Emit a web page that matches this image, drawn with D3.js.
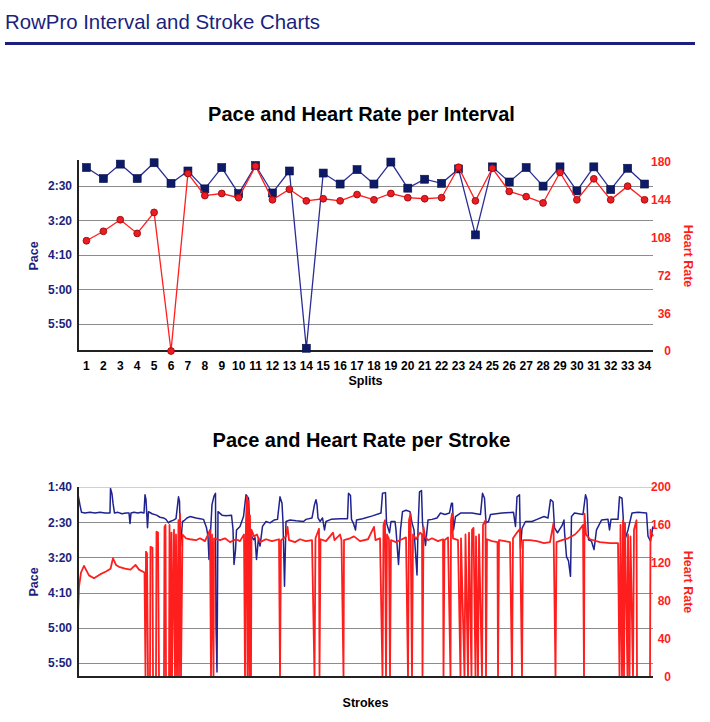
<!DOCTYPE html>
<html>
<head>
<meta charset="utf-8">
<script src="https://cdn.jsdelivr.net/npm/d3@7"></script>
<style>
  body { margin: 0; background: #fff; }
  svg text { font-family: "Liberation Sans", Arial, Helvetica, sans-serif; }
</style>
</head>
<body>
<svg id="page" width="710" height="722"></svg>
<script>
// interval data (pace in seconds per 500m, heart rate in bpm)
const splits = [1,2,3,4,5,6,7,8,9,10,11,12,13,14,15,16,17,18,19,20,21,22,23,24,25,26,27,28,29,30,31,32,33,34];
const splitPace = [123,139,118,139,116,146,128,154,123,161,120,160,128,386,131,147,126,147,115,153,140,146,125,221,122,144,123,150,122,157,122,155,124,147];
const splitHeartRate = [105,114,125,112,132,0,169,148,150,146,176,144,154,143,145,143,149,144,150,146,145,146,175,143,174,152,147,141,170,144,164,144,157,144];

const intervalPaceTicks = [150,200,250,300,350];
const intervalHrTicks = [0,36,72,108,144,180];
const strokePaceTicks = [100,150,200,250,300,350];
const strokeHrTicks = [0,40,80,120,160,200];

// stroke data: [stroke, value]
const strokePace = [
  [0,111],[2,118],[4,126],[7,136],[14,137],[24,136],[34,137],[44,136],[54,137],[64,137],[65,102],[68,110],[70,123],[73,137],[80,136],[88,138],[96,137],[102,137],[104,152],[106,137],[112,136],[120,137],[126,136],[132,137],
  [134,111],[136,118],[139,158],[141,135],[148,138],[157,140],[164,143],[171,144],[176,146],[181,151],[184,149],[191,147],[196,145],[201,114],[203,120],[205,185],[209,149],[212,148],[218,144],[224,142],[230,143],[236,144],
  [244,145],[251,146],[257,158],[260,170],[262,203],[265,165],[268,125],[272,113],[275,109],[276,298],[278,363],[280,135],[288,140],[296,141],[307,140],[310,160],[312,210],[315,190],[317,161],[324,156],[331,142],
  [336,111],[341,116],[344,165],[351,175],[354,172],[357,203],[361,172],[364,184],[369,156],[376,149],[384,151],[392,147],[399,146],[404,114],[408,123],[410,150],[413,241],[416,149],[424,147],[436,148],[451,149],
  [456,146],[468,144],[473,125],[476,118],[478,125],[480,144],[484,149],[489,144],[493,161],[496,149],[506,146],[524,145],[539,145],[541,109],[545,112],[547,146],[551,152],[555,161],[557,147],[569,145],[589,141],
  [606,137],[609,109],[615,108],[617,151],[623,165],[626,149],[634,149],[636,161],[641,210],[645,161],[649,135],[656,133],[664,135],[668,151],[672,161],[678,225],[680,161],[683,107],[687,105],[689,151],[695,183],
  [700,147],[708,146],[718,144],[725,137],[734,139],[743,137],[747,123],[749,123],[751,161],[755,142],[765,137],[788,137],[805,139],[809,109],[813,116],[816,151],[821,149],[825,139],[848,137],[871,136],[875,156],
  [878,114],[883,111],[885,187],[888,159],[895,149],[908,149],[918,146],[932,142],[940,144],[945,118],[950,121],[953,158],[959,165],[968,155],[972,147],[973,163],[977,199],[981,205],[985,227],[987,142],[993,137],
  [1010,139],[1015,111],[1018,118],[1021,175],[1027,177],[1032,189],[1037,161],[1047,147],[1060,146],[1063,161],[1066,146],[1080,146],[1083,114],[1088,116],[1092,161],[1095,172],[1100,161],[1108,137],[1120,136],
  [1137,137],[1140,170],[1145,177],[1150,156]
];
const strokeHeartRate = [
  [0,65],[2,95],[6,110],[12,117],[17,112],[22,107],[32,104],[44,108],[56,111],[65,114],[70,125],[76,118],[82,116],[94,114],[105,113],[115,118],[122,113],[133,110],
  [135,0],[136,132],[138,130],[140,0],[144,0],[145,137],[149,136],[150,0],[156,0],[157,153],[160,152],[162,0],[172,0],[173,158],[175,160],[176,0],[182,0],[183,160],[185,0],[187,152],[188,0],[192,155],[194,0],
  [196,150],[198,0],[201,165],[202,0],[204,172],[206,0],[209,150],[216,146],[224,145],[236,144],[244,146],[254,143],[260,150],[264,155],[266,0],[268,150],[271,0],[272,146],[284,144],[294,146],[304,142],[316,145],
  [324,143],[332,150],[334,0],[336,165],[338,190],[339,0],[341,185],[343,0],[344,170],[346,0],[347,155],[352,148],[358,150],[364,142],[376,145],[388,143],[402,145],[404,0],[406,144],[416,148],[419,158],[422,144],
  [434,142],[444,145],[456,143],[468,144],[473,0],[475,146],[482,156],[483,0],[485,145],[496,143],[510,152],[513,144],[524,150],[527,144],[531,0],[532,144],[544,146],[552,148],[564,143],[580,145],[592,158],[595,144],
  [604,146],[609,0],[611,160],[614,165],[616,0],[618,150],[622,145],[624,0],[626,144],[636,142],[648,145],[656,147],[660,0],[662,165],[665,172],[668,0],[670,150],[676,145],[684,152],[688,150],[689,0],[691,158],
  [694,148],[700,144],[708,146],[720,143],[730,145],[731,0],[733,144],[740,147],[745,0],[746,165],[748,172],[750,146],[760,144],[765,0],[766,146],[773,0],[775,150],[780,0],[782,152],[787,0],[788,155],[791,157],
  [795,0],[796,148],[800,0],[802,150],[808,0],[810,160],[815,165],[816,0],[818,145],[828,143],[839,142],[840,0],[842,144],[854,143],[864,142],[868,0],[870,146],[878,152],[884,156],[888,0],[890,144],[904,144],
  [918,143],[932,141],[944,142],[951,162],[955,0],[957,142],[968,144],[980,146],[994,150],[1003,155],[1010,160],[1012,0],[1013,172],[1016,150],[1024,145],[1044,142],[1064,141],[1080,141],[1083,0],[1085,160],
  [1088,0],[1090,165],[1092,0],[1094,162],[1099,0],[1100,150],[1103,0],[1105,148],[1110,0],[1112,155],[1117,165],[1118,0],[1144,0],[1145,155],[1150,148]
];

const navy = "#1b1f7e";
const paceLine = "#1f228f";
const red = "#ff1e1e";
const gridColor = "#8c8c8c";
const axisColor = "#222";

const svg = d3.select("svg#page");
const fmtPace = s => Math.floor(s / 60) + ":" + String(s % 60).padStart(2, "0");

// page header
svg.append("text")
  .attr("x", 5).attr("y", 29)
  .attr("font-size", 20.4)
  .attr("fill", navy)
  .text("RowPro Interval and Stroke Charts");
svg.append("line")
  .attr("x1", 5).attr("x2", 695)
  .attr("y1", 43.5).attr("y2", 43.5)
  .attr("stroke", navy)
  .attr("stroke-width", 3);

function frame(box, title, paceScale, paceTicks, hrScale, hrTicks) {
  const g = svg.append("g");
  g.append("text")
    .attr("x", (box.left + box.right) / 2 - 4)
    .attr("y", box.titleY)
    .attr("text-anchor", "middle")
    .attr("font-size", 20)
    .attr("font-weight", "bold")
    .attr("fill", "#000")
    .text(title);

  g.append("g").attr("class", "grid").selectAll("line")
    .data(paceTicks)
    .join("line")
    .attr("x1", box.left).attr("x2", box.right)
    .attr("y1", d => Math.round(paceScale(d)) + 0.5)
    .attr("y2", d => Math.round(paceScale(d)) + 0.5)
    .attr("stroke", gridColor)
    .attr("stroke-width", 1);

  const left = g.append("g")
    .attr("transform", `translate(${box.left},0)`)
    .call(d3.axisLeft(paceScale).tickValues(paceTicks).tickFormat(fmtPace).tickSize(0).tickPadding(6));
  left.select(".domain").remove();
  left.selectAll("text")
    .attr("font-size", 12).attr("font-weight", "bold")
    .attr("fill", navy).attr("font-family", null);

  const right = g.append("g")
    .attr("transform", `translate(${box.right},0)`)
    .call(d3.axisRight(hrScale).tickValues(hrTicks).tickSize(0));
  right.select(".domain").remove();
  right.selectAll("text")
    .attr("x", 18).attr("text-anchor", "end")
    .attr("font-size", 12).attr("font-weight", "bold")
    .attr("fill", red).attr("font-family", null);

  g.append("text")
    .attr("transform", `translate(38,${box.labelY}) rotate(-90)`)
    .attr("text-anchor", "middle")
    .attr("font-size", 12.5).attr("font-weight", "bold")
    .attr("fill", navy)
    .text("Pace");
  g.append("text")
    .attr("transform", `translate(684,${box.labelY}) rotate(90)`)
    .attr("text-anchor", "middle")
    .attr("font-size", 12.5).attr("font-weight", "bold")
    .attr("fill", red)
    .text("Heart Rate");
  return g;
}

function axisLines(g, box) {
  g.append("line")
    .attr("x1", box.left).attr("x2", box.left)
    .attr("y1", box.top).attr("y2", box.bottom + 1)
    .attr("stroke", axisColor).attr("stroke-width", 2);
  g.append("line")
    .attr("x1", box.left - 1).attr("x2", box.right)
    .attr("y1", box.bottom).attr("y2", box.bottom)
    .attr("stroke", axisColor).attr("stroke-width", 2);
}

// ---- chart 1: per interval
const box1 = { left: 78, right: 653, top: 160, bottom: 351, titleY: 121, labelY: 256 };
const x1 = d3.scaleBand().domain(splits).range([box1.left, box1.right]);
const pace1 = d3.scaleLinear().domain([112, 390]).range([box1.top, box1.bottom]);
const hr1 = d3.scaleLinear().domain([0, 180]).range([box1.bottom, 162]);
const g1 = frame(box1, "Pace and Heart Rate per Interval", pace1, intervalPaceTicks, hr1, intervalHrTicks);

const bottom1 = g1.append("g")
  .attr("transform", `translate(0,${box1.bottom})`)
  .call(d3.axisBottom(x1).tickSize(0).tickPadding(10));
bottom1.select(".domain").remove();
bottom1.selectAll("text")
  .attr("font-size", 12).attr("font-weight", "bold")
  .attr("fill", "#000").attr("font-family", null);
g1.append("text")
  .attr("x", (box1.left + box1.right) / 2).attr("y", 385)
  .attr("text-anchor", "middle")
  .attr("font-size", 12.5).attr("font-weight", "bold")
  .text("Splits");
axisLines(g1, box1);

const cx1 = d => x1(d) + x1.bandwidth() / 2;
g1.append("path")
  .datum(splits)
  .attr("fill", "none")
  .attr("stroke", "#2a2c98")
  .attr("stroke-width", 1.3)
  .attr("d", d3.line().x(cx1).y((d, i) => pace1(splitPace[i])));
g1.append("g").selectAll("rect")
  .data(splits)
  .join("rect")
  .attr("x", d => cx1(d) - 4)
  .attr("y", (d, i) => pace1(splitPace[i]) - 4)
  .attr("width", 8).attr("height", 8)
  .attr("fill", "#0d1a66")
  .attr("stroke", "#08104a").attr("stroke-width", 0.6);

g1.append("path")
  .datum(splits)
  .attr("fill", "none")
  .attr("stroke", red)
  .attr("stroke-width", 1.3)
  .attr("d", d3.line().x(cx1).y((d, i) => hr1(splitHeartRate[i])));
g1.append("g").selectAll("circle")
  .data(splits)
  .join("circle")
  .attr("cx", cx1)
  .attr("cy", (d, i) => hr1(splitHeartRate[i]))
  .attr("r", 3.4)
  .attr("fill", "#ec1c24")
  .attr("stroke", "#9a0b0b").attr("stroke-width", 0.9);

// ---- chart 2: per stroke
const box2 = { left: 78, right: 653, top: 487, bottom: 677, titleY: 447, labelY: 582 };
const x2 = d3.scaleLinear().domain([0, 1150]).range([box2.left, box2.right]);
const pace2 = d3.scaleLinear().domain([100, 370]).range([box2.top, box2.bottom]);
const hr2 = d3.scaleLinear().domain([0, 200]).range([box2.bottom, box2.top]);
const g2 = frame(box2, "Pace and Heart Rate per Stroke", pace2, strokePaceTicks, hr2, strokeHrTicks);
g2.selectAll(".grid line").filter(d => d === 100).attr("stroke", "#d0d0d0");

g2.append("path")
  .datum(strokePace)
  .attr("fill", "none")
  .attr("stroke", paceLine)
  .attr("stroke-width", 1.5)
  .attr("stroke-linejoin", "round")
  .attr("d", d3.line().x(d => x2(d[0])).y(d => pace2(d[1])));
g2.append("path")
  .datum(strokeHeartRate)
  .attr("fill", "none")
  .attr("stroke", red)
  .attr("stroke-width", 1.8)
  .attr("stroke-linejoin", "round")
  .attr("d", d3.line().x(d => x2(d[0])).y(d => hr2(d[1])));

g2.append("text")
  .attr("x", (box2.left + box2.right) / 2).attr("y", 707)
  .attr("text-anchor", "middle")
  .attr("font-size", 12.5).attr("font-weight", "bold")
  .text("Strokes");
axisLines(g2, box2);
</script>
</body>
</html>
